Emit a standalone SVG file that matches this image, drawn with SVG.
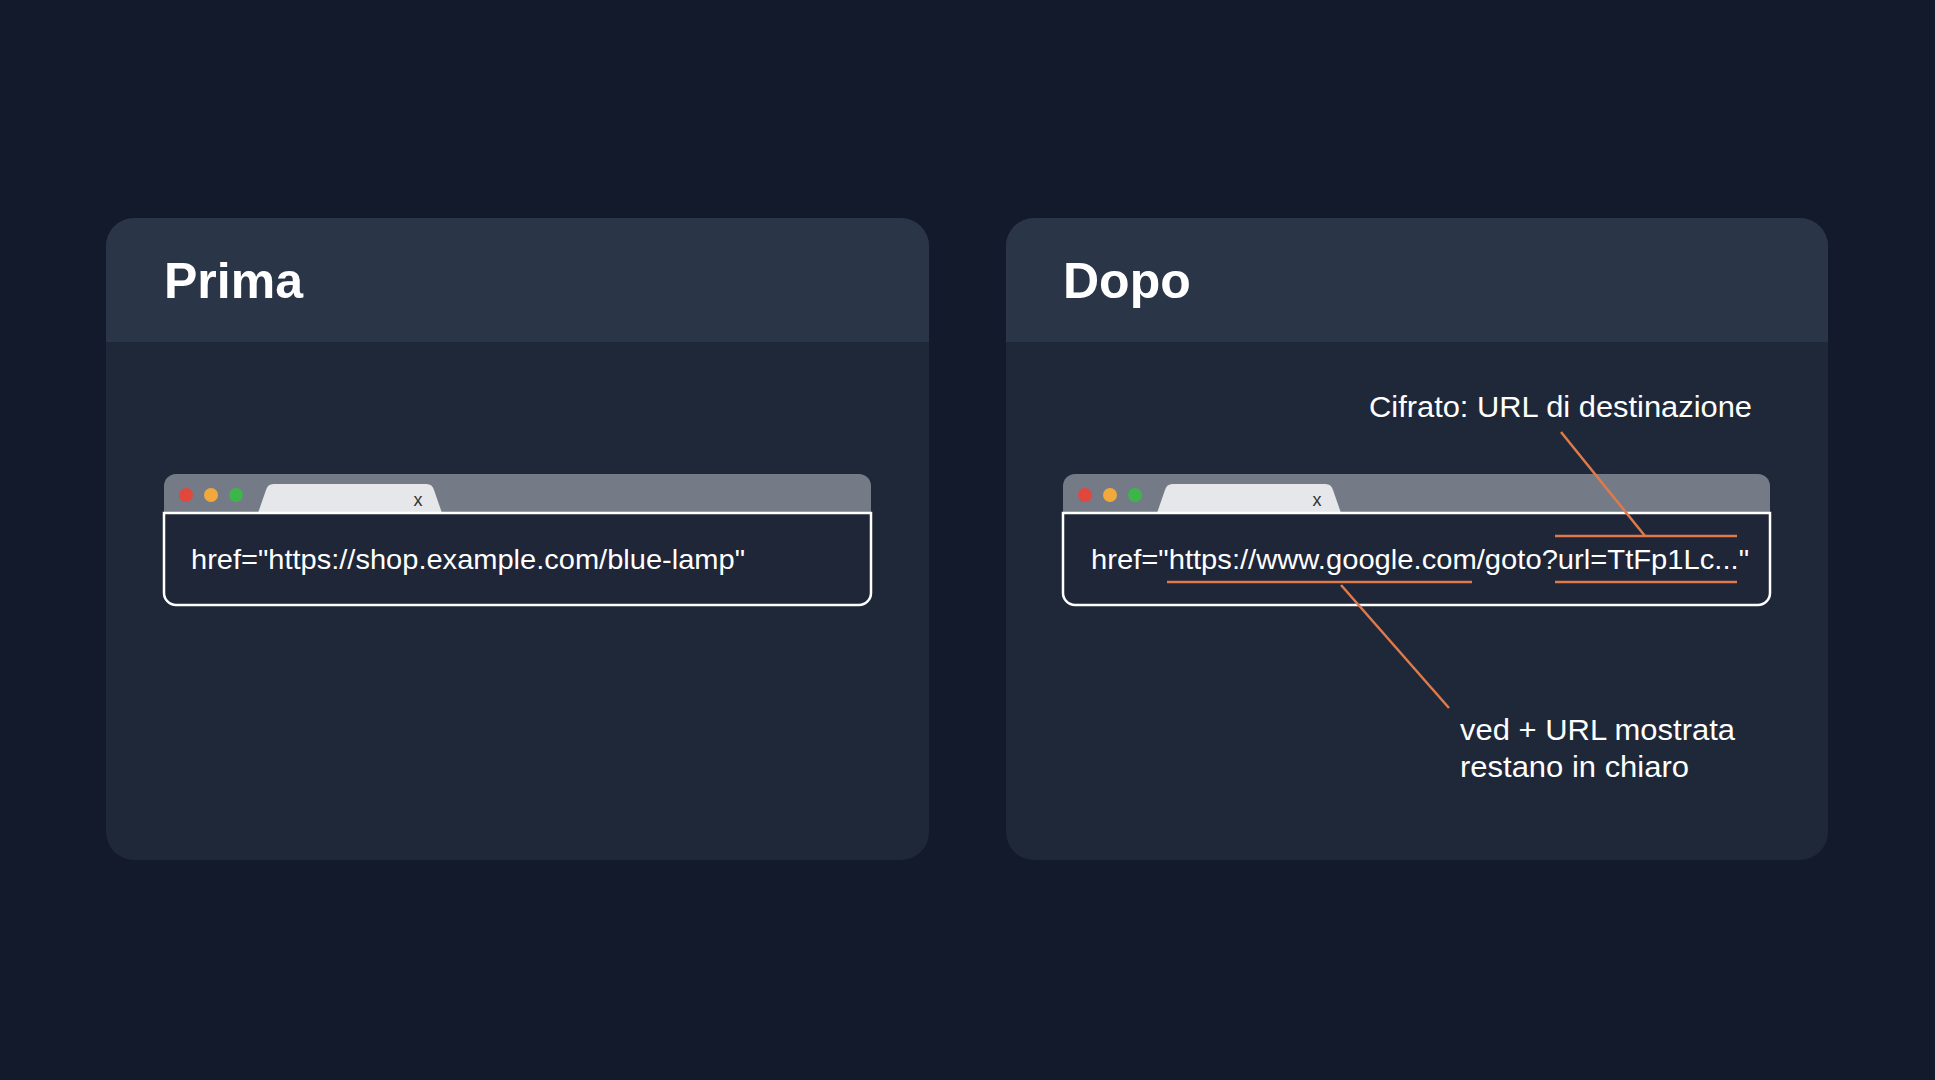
<svg xmlns="http://www.w3.org/2000/svg" width="1935" height="1080" viewBox="0 0 1935 1080">
<defs>
<style>
.panel{fill:#1f2839}
.head{fill:#2b3548}
.title{font-family:"Liberation Sans",Arial,sans-serif;font-weight:bold;font-size:50px;fill:#ffffff}
.code{font-family:"Liberation Sans",Arial,sans-serif;font-size:28px;fill:#ffffff}
.lab{font-family:"Liberation Sans",Arial,sans-serif;font-size:29px;fill:#ffffff}
.strip{fill:#747b87}
.tab{fill:#e5e7eb}
.box{fill:#1e2638;stroke:#ffffff;stroke-width:2.5}
.x{font-family:"Liberation Sans",Arial,sans-serif;font-size:18px;fill:#333}
.or{stroke:#e07a4a;stroke-width:2.5;fill:none}
</style>
<clipPath id="cl"><rect x="106" y="218" width="823" height="642" rx="28"/></clipPath>
<clipPath id="cr"><rect x="1006" y="218" width="822" height="642" rx="28"/></clipPath>
</defs>
<rect width="1935" height="1080" fill="#131a2b"/>
<g id="prima">
<rect class="panel" x="106" y="218" width="823" height="642" rx="28"/>
<rect class="head" x="106" y="218" width="823" height="124" clip-path="url(#cl)"/>
<text class="title" x="164" y="298">Prima</text>
<g id="browser1">
<path class="strip" d="M164 513 V486 a12 12 0 0 1 12 -12 H859 a12 12 0 0 1 12 12 V513 Z"/>
<path class="tab" d="M258 513 L266 490 a8 8 0 0 1 8 -6 H426 a8 8 0 0 1 8 6 L442 513 Z"/>
<circle cx="186" cy="495" r="7" fill="#e0483e"/><circle cx="211" cy="495" r="7" fill="#f2a93b"/><circle cx="236" cy="495" r="7" fill="#3db54a"/>
<text class="x" x="418" y="506" text-anchor="middle">x</text>
<path class="box" d="M164 513 H871 V593 a12 12 0 0 1 -12 12 H176 a12 12 0 0 1 -12 -12 Z"/>
<text class="code" x="191" y="569" textLength="554" lengthAdjust="spacingAndGlyphs">href="https://shop.example.com/blue-lamp"</text>
</g>
</g>
<g id="dopo">
<rect class="panel" x="1006" y="218" width="822" height="642" rx="28"/>
<rect class="head" x="1006" y="218" width="822" height="124" clip-path="url(#cr)"/>
<text class="title" x="1063" y="298">Dopo</text>
<g id="browser2">
<path class="strip" d="M1063 513 V486 a12 12 0 0 1 12 -12 H1758 a12 12 0 0 1 12 12 V513 Z"/>
<path class="tab" d="M1157 513 L1165 490 a8 8 0 0 1 8 -6 H1325 a8 8 0 0 1 8 6 L1341 513 Z"/>
<circle cx="1085" cy="495" r="7" fill="#e0483e"/><circle cx="1110" cy="495" r="7" fill="#f2a93b"/><circle cx="1135" cy="495" r="7" fill="#3db54a"/>
<text class="x" x="1317" y="506" text-anchor="middle">x</text>
<path class="box" d="M1063 513 H1770 V593 a12 12 0 0 1 -12 12 H1075 a12 12 0 0 1 -12 -12 Z"/>
<text class="code" x="1091" y="569" textLength="658" lengthAdjust="spacingAndGlyphs">href="https://www.google.com/goto?url=TtFp1Lc..."</text>
</g>
<text class="lab" x="1369" y="417" textLength="383" lengthAdjust="spacingAndGlyphs">Cifrato: URL di destinazione</text>
<text class="lab" x="1460" y="740" textLength="275" lengthAdjust="spacingAndGlyphs">ved + URL mostrata</text>
<text class="lab" x="1460" y="777" textLength="229" lengthAdjust="spacingAndGlyphs">restano in chiaro</text>
</g>
<g id="connectors">
<line class="or" x1="1167" y1="582" x2="1472" y2="582"/>
<line class="or" x1="1555" y1="582" x2="1737" y2="582"/>
<line class="or" x1="1555" y1="536" x2="1737" y2="536"/>
<line class="or" x1="1561" y1="432" x2="1645" y2="536"/>
<line class="or" x1="1341" y1="585" x2="1449" y2="708"/>
</g>
</svg>
